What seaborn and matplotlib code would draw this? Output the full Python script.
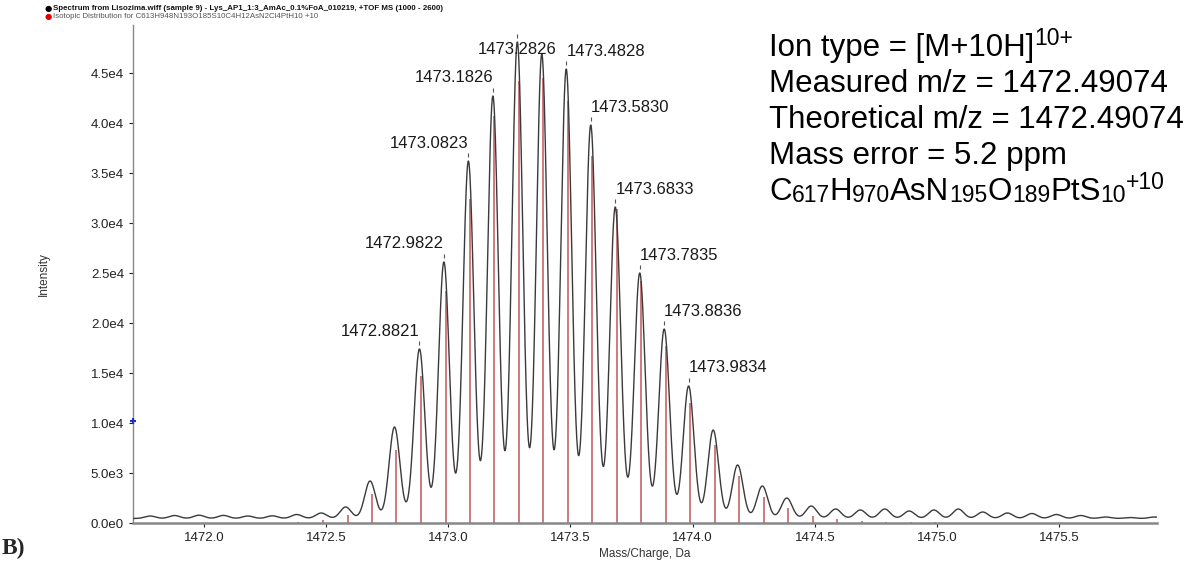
import numpy as np
import pandas as pd
import matplotlib
matplotlib.use("Agg")
import matplotlib.pyplot as plt
import seaborn as sns
from matplotlib.ticker import FuncFormatter, FixedLocator

# ---------------- data ----------------
# measured profile peaks (apex m/z, apex intensity incl. baseline)
exp_mz = [1471.78, 1471.88, 1471.98, 1472.08, 1472.18, 1472.28, 1472.38, 1472.48,
          1472.58, 1472.68, 1472.78, 1472.8821, 1472.9822, 1473.0823, 1473.1826,
          1473.2826, 1473.3827, 1473.4828, 1473.5830, 1473.6833, 1473.7835,
          1473.8836, 1473.9834, 1474.084, 1474.184, 1474.285, 1474.385, 1474.485,
          1474.585, 1474.686, 1474.786, 1474.886, 1474.987, 1475.087, 1475.187,
          1475.288, 1475.388, 1475.488, 1475.588, 1475.689, 1475.789, 1475.889]
exp_int = [700, 750, 780, 760, 700, 720, 850, 1000,
           1600, 4200, 9600, 17400, 26100, 36200, 42700,
           48100, 46900, 45400, 39800, 31600, 25000,
           19400, 13700, 9300, 5800, 3700, 2500, 1700,
           1400, 1300, 1400, 1200, 1300, 1400, 1100,
           1000, 950, 850, 750, 600, 550, 600]
baseline_level = 450

# theoretical isotopic distribution (red sticks)
theo_mz = [1472.387, 1472.487, 1472.588, 1472.688, 1472.788, 1472.888, 1472.989,
           1473.089, 1473.189, 1473.289, 1473.389, 1473.490, 1473.590, 1473.690,
           1473.790, 1473.891, 1473.991, 1474.091, 1474.191, 1474.292, 1474.392,
           1474.492, 1474.592, 1474.693, 1474.793, 1474.893, 1474.993, 1475.094,
           1475.194]
theo_int = [100, 300, 800, 2900, 7300, 14700, 23200,
            32400, 40700, 44200, 44500, 42200, 36700, 31400,
            24200, 17700, 12000, 7800, 4700, 2600, 1500,
            700, 400, 200, 150, 100, 80, 50,
            30]

# labelled peaks
label_mz = [1472.8821, 1472.9822, 1473.0823, 1473.1826, 1473.2826, 1473.4828,
            1473.5830, 1473.6833, 1473.7835, 1473.8836, 1473.9834]
label_int = [17400, 26100, 36200, 42700, 48100, 45400, 39800, 31600, 25000, 19400, 13700]
label_text = ["1472.8821", "1472.9822", "1473.0823", "1473.1826", "1473.2826", "1473.4828",
              "1473.5830", "1473.6833", "1473.7835", "1473.8836", "1473.9834"]
label_side = ["right", "right", "right", "right", "center", "left",
              "left", "left", "left", "left", "left"]

x_ticks = [1472.0, 1472.5, 1473.0, 1473.5, 1474.0, 1474.5, 1475.0, 1475.5]
y_ticks = [0, 5000, 10000, 15000, 20000, 25000, 30000, 35000, 40000, 45000]

# info block: each line is a list of (text, role) runs; role: n=normal, sub, sup
info_lines = [
    [("Ion type = [M+10H]", "n"), ("10+", "sup")],
    [("Measured m/z = 1472.49074", "n")],
    [("Theoretical m/z = 1472.49074", "n")],
    [("Mass error = 5.2 ppm", "n")],
    [("C", "n"), ("617", "sub"), ("H", "n"), ("970", "sub"), ("AsN", "n"), ("195", "sub"),
     ("O", "n"), ("189", "sub"), ("PtS", "n"), ("10", "sub"), ("+10", "sup")],
]
legend_lines = ["Spectrum from Lisozima.wiff (sample 9) - Lys_AP1_1:3_AmAc_0.1%FoA_010219, +TOF MS (1000 - 2600)",
                "Isotopic Distribution for C613H948N193O185S10C4H12AsN2Cl4PtH10 +10"]

XMIN, XMAX = 1471.71, 1475.90
YMIN, YMAX = 0, 49800

# ---------------- style ----------------
sns.set_theme(style="white")
plt.rcParams["font.family"] = ["Liberation Sans", "DejaVu Sans"]

W, H = 1195, 565
fig = plt.figure(figsize=(W / 100, H / 100), dpi=100)
ax_l, ax_r, ax_b, ax_t = 133, 1157, 523, 25
ax = fig.add_axes([ax_l / W, 1 - ax_b / H, (ax_r - ax_l) / W, (ax_b - ax_t) / H])

# profile curve built from peak list
x = np.linspace(XMIN, XMAX, 4000)
sigma = 0.022
y = np.full_like(x, baseline_level, dtype=float)
for m, h in zip(exp_mz, exp_int):
    y += (h - baseline_level) * np.exp(-(x - m) ** 2 / (2 * sigma ** 2))
prof = pd.DataFrame({"mz": x, "intensity": y})

# theoretical sticks
ax.vlines(theo_mz, 0, theo_int, color="#b53a3a", linewidth=1.1, alpha=0.85, zorder=2)
sns.lineplot(data=prof, x="mz", y="intensity", ax=ax, color="#3a3a3a", linewidth=1.0, zorder=3)

# apex markers and labels
for m, h, t, side in zip(label_mz, label_int, label_text, label_side):
    ax.plot([m], [h + 600], marker="|", ms=3, color="#555555", mew=0.8, zorder=4)
    yc = min(h + 1800, 47300)
    ax.text(m, yc, t, ha=side, va="center", fontsize=12, color="#1a1a1a", zorder=5)

ax.plot([XMIN], [10200], marker="+", ms=5, mew=1.5, color="#1f2fbf", clip_on=False, zorder=6)

ax.set_xlim(XMIN, XMAX)
ax.set_ylim(YMIN, YMAX)
ax.xaxis.set_major_locator(FixedLocator(x_ticks))
ax.yaxis.set_major_locator(FixedLocator(y_ticks))
ax.xaxis.set_major_formatter(FuncFormatter(lambda v, p: f"{v:.1f}"))


def sci(v, p):
    if v == 0:
        return "0.0e0"
    e = int(np.floor(np.log10(abs(v))))
    return f"{v / 10 ** e:.1f}e{e}"


ax.yaxis.set_major_formatter(FuncFormatter(sci))
ax.tick_params(axis="both", labelsize=9.5, colors="#222222", length=3, width=0.8,
               direction="out", bottom=True, left=True)
for s in ["top", "right"]:
    ax.spines[s].set_visible(False)
ax.spines["left"].set_color("#888888")
ax.spines["left"].set_linewidth(1.0)
ax.spines["bottom"].set_color("#888888")
ax.spines["bottom"].set_linewidth(1.8)

ax.set_xlabel("Mass/Charge, Da", fontsize=8.5, color="#333333")
ax.set_ylabel("Intensity", fontsize=8.5, color="#333333")
ax.xaxis.set_label_coords(0.5, -(548 - ax_b) / (ax_b - ax_t))
ax.yaxis.set_label_coords((50 - ax_l) / (ax_r - ax_l), 0.5)

# info text block drawn as runs
renderer = fig.canvas.get_renderer()
size_main, size_small = 22.5, 16.5
role_dy = {"n": 0, "sub": 2, "sup": -11}
line_base = [56, 92, 128, 164, 200]
for runs, yb in zip(info_lines, line_base):
    xp = 769
    for txt, role in runs:
        fs = size_main if role == "n" else size_small
        t = fig.text(xp / W, 1 - (yb + role_dy[role]) / H, txt, ha="left", va="baseline",
                     fontsize=fs, color="black")
        xp += t.get_window_extent(renderer).width

# small legend top left
leg_y = [8, 16]
leg_col = ["black", "#e00000"]
leg_txt_col = ["#111111", "#555555"]
leg_weight = ["bold", "normal"]
for t, yy, c, tc, wgt in zip(legend_lines, leg_y, leg_col, leg_txt_col, leg_weight):
    fig.text(48 / W, 1 - yy / H, "\u25cf", ha="center", va="center", fontsize=6,
             color=c, family=["DejaVu Sans"])
    fig.text(53 / W, 1 - yy / H, t, ha="left", va="center", fontsize=5.7,
             color=tc, fontweight=wgt)

fig.text(2 / W, 1 - 548 / H, "B)", ha="left", va="center", fontsize=17,
         fontweight="bold", family=["Liberation Serif", "DejaVu Serif"])

fig.savefig("out.png", dpi=100)
